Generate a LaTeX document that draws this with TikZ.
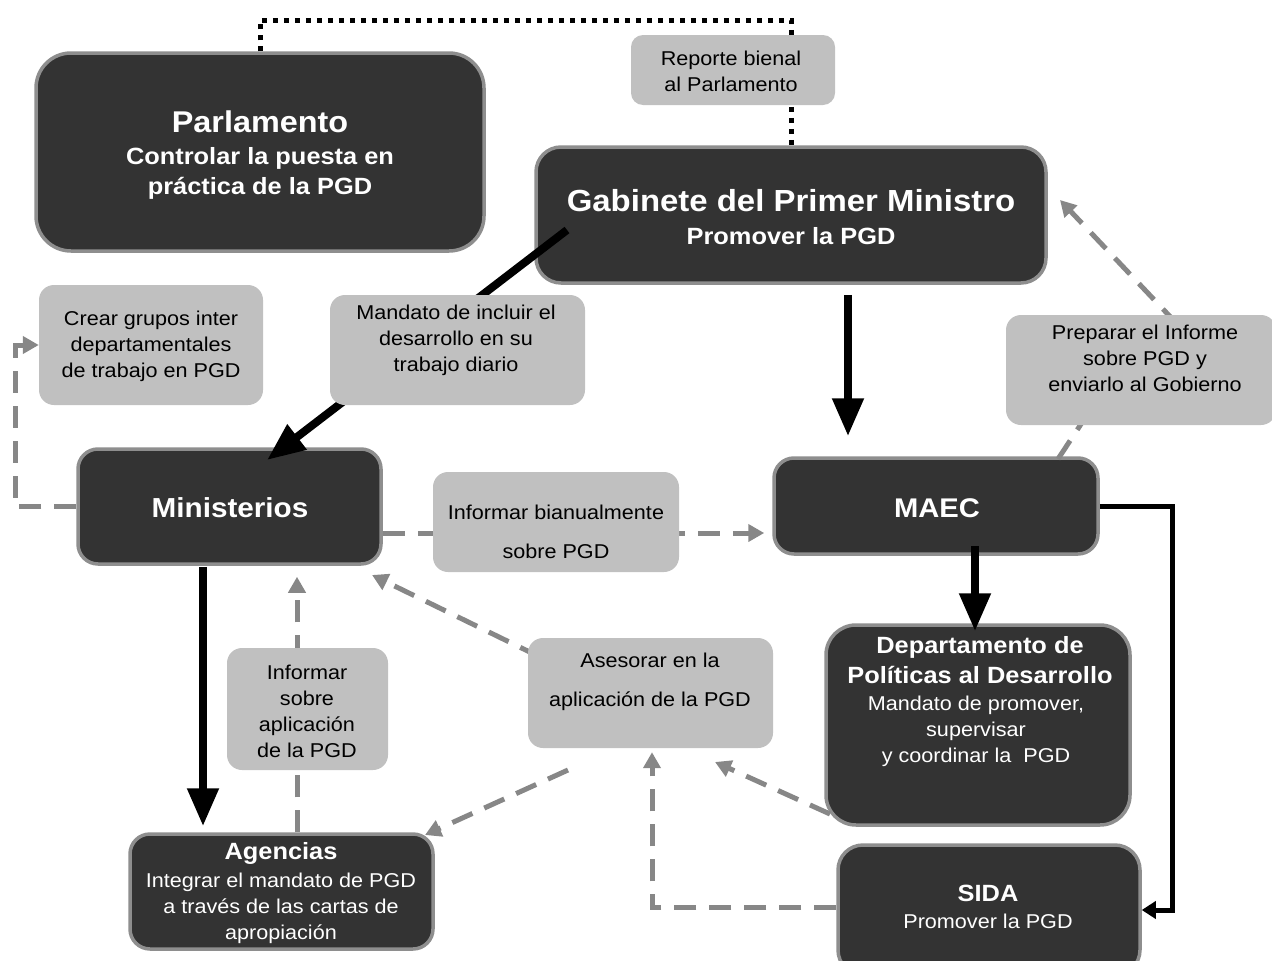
\documentclass[tikz,border=0pt]{standalone}
\usepackage{fontspec}
\setmainfont{Liberation Sans}[FakeStretch=1.08]
\usetikzlibrary{arrows.meta,calc}
\definecolor{dk}{HTML}{333333}
\definecolor{lt}{HTML}{C0C0C0}
\definecolor{bd}{HTML}{8E8E8E}
\definecolor{dg}{HTML}{878787}
\pgfdeclarelayer{boxes}
\pgfdeclarelayer{links}
\pgfsetlayers{boxes,links,main}
\begin{document}
\begin{tikzpicture}[x=1pt,y=-1pt,
  darkbox/.style={draw=bd, line width=3.5pt, fill=dk, inner sep=0pt},
  lightbox/.style={fill=lt, draw=none, inner sep=0pt, rounded corners=15pt},
  fat/.style={line width=8pt, -{Triangle[length=38pt,width=30pt]}},
  thinarrow/.style={line width=5pt, -{Triangle[length=14pt,width=17pt]}},
  dotline/.style={line width=5pt, dash pattern=on 5pt off 6pt},
  gdash/.style={draw=dg, line width=5pt, dash pattern=on 22pt off 13pt},
  garrow/.style={gdash, -{Triangle[length=16pt,width=17pt]}},
  txt/.style={align=center, inner sep=0pt, font=\fontsize{20}{26}\selectfont},
  wtxt/.style={txt, text=white},
  wtitle/.style={align=center, inner sep=0pt, text=white, font=\bfseries\fontsize{23.5}{30}\selectfont},
  wbig/.style={align=center, inner sep=0pt, text=white, font=\bfseries\fontsize{30}{36}\selectfont}
]
\useasboundingbox (0,0) rectangle (1272,961);
\clip (0,0) rectangle (1272,961);

% ---------- dark boxes ----------
\begin{pgfonlayer}{boxes}
\node[darkbox, minimum width=448pt, minimum height=198pt, rounded corners=35pt] (parl) at (260,152) {};
\node[darkbox, minimum width=510pt, minimum height=136pt, rounded corners=25pt] (gab) at (791,215) {};
\node[darkbox, minimum width=303pt, minimum height=115pt, rounded corners=20pt] (min) at (229.5,506.5) {};
\node[darkbox, minimum width=324pt, minimum height=96pt, rounded corners=20pt] (maec) at (936,506) {};
\node[darkbox, minimum width=304pt, minimum height=200pt, rounded corners=30pt] (dep) at (978,725) {};
\node[darkbox, minimum width=302pt, minimum height=130pt, rounded corners=25pt] (sida) at (989,910) {};
\node[darkbox, minimum width=303pt, minimum height=115pt, rounded corners=20pt] (ag) at (281.5,891.5) {};
\end{pgfonlayer}

% ---------- light boxes ----------
\node[lightbox, minimum width=204pt, minimum height=70pt, rounded corners=12pt] (rep) at (733,70) {};
\node[lightbox, minimum width=255pt, minimum height=110pt] (mand) at (457.5,350) {};
\node[lightbox, minimum width=224pt, minimum height=120pt] (crear) at (151,345) {};
\node[lightbox, minimum width=246pt, minimum height=100pt] (infb) at (556,522) {};
\node[lightbox, minimum width=270pt, minimum height=110pt] (prep) at (1141,370) {};
\node[lightbox, minimum width=161pt, minimum height=122pt] (infs) at (307.5,709) {};
\node[lightbox, minimum width=245pt, minimum height=110pt] (ases) at (650.5,693) {};

% ---------- helper coordinates ----------
\coordinate (top) at (0,20);
\coordinate (xa) at (848,0);
\coordinate (xb) at (975,0);
\coordinate (xc) at (203,0);
\coordinate (xd) at (1172,0);
\coordinate (xe) at (15,0);
\coordinate (yb) at (0,533);
\coordinate (xf) at (297,0);
\coordinate (xg) at (652,0);
\coordinate (ys) at (0,907);
\coordinate (g1) at (567,230);
\coordinate (m1) at (267,460);
\coordinate (a1) at (540,657);
\coordinate (a2) at (372,575);
\coordinate (a3) at (568,770);
\coordinate (a4) at (425,835);
\coordinate (d1) at (830,814);
\coordinate (d2) at (715,762);
\coordinate (p1) at (1058,459);
\coordinate (p2) at (1085,418);
\coordinate (p3) at (1178,325);
\coordinate (p4) at (1060,200);

% ---------- connectors ----------
\begin{pgfonlayer}{links}
\draw[dotline] (parl.north) -- (parl.north |- top) -- (gab.north |- top) -- (gab.north);
\draw[fat] (g1) -- (m1);
\draw[fat] ([yshift=-10pt]gab.south -| xa) -- ([yshift=20pt]maec.north -| xa);
\draw[fat] ([yshift=10pt]maec.south -| xb) -- ([yshift=-8pt]dep.north -| xb);
\draw[fat] ([yshift=-1pt]min.south -| xc) -- ([yshift=6pt]ag.north -| xc);
\draw[thinarrow] (maec.east) -- (maec.east -| xd) -- (sida.east -| xd) -- (sida.east);
\draw[garrow] (min.west) -- (min.west -| xe) -- (crear.west -| xe) -- (crear.west);
\draw[garrow] (min.east |- yb) -- ([xshift=-8pt]maec.west |- yb);
\draw[garrow] (ag.north -| xf) -- ([yshift=-11pt]min.south -| xf);
\draw[garrow] (a1) -- (a2);
\draw[garrow] (a3) -- (a4);
\draw[garrow] (d1) -- (d2);
\draw[garrow] (sida.west |- ys) -- (xg |- ys) -- ([yshift=-4pt]ases.south -| xg);
\draw[gdash] (p1) -- (p2);
\draw[garrow] (p3) -- (p4);
\end{pgfonlayer}

% ---------- texts ----------
\node[wbig] (tparl) at (260,122) {Parlamento};
\node[wtitle] (tparl2) at (260,173) {Controlar la puesta en\\práctica de la PGD};
\node[txt] (trep) at (731,71) {Reporte bienal\\al Parlamento};
\node[wbig, font=\bfseries\fontsize{30.5}{36}\selectfont] (tgab) at (791,201) {Gabinete del Primer Ministro};
\node[wtitle] (tgab2) at (791,236) {Promover la PGD};
\node[txt] (tmand) at (456,340) {Mandato de incluir el\\desarrollo en su\\trabajo diario};
\node[txt] (tcrear) at (151,346) {Crear grupos inter\\departamentales\\de trabajo en PGD};
\node[wtitle, font=\bfseries\fontsize{27.5}{33}\selectfont] (tmin) at (230,508) {Ministerios};
\node[txt, font=\fontsize{20}{39}\selectfont] (tinfb) at (556,532) {Informar bianualmente\\sobre PGD};
\node[wtitle, font=\bfseries\fontsize{27}{33}\selectfont] (tmaec) at (937,508) {MAEC};
\node[txt] (tprep) at (1145,358) {Preparar el Informe\\sobre PGD y\\enviarlo al Gobierno};
\node[txt] (tinfs) at (307,711) {Informar\\sobre\\aplicación\\de la PGD};
\node[txt, font=\fontsize{20}{39}\selectfont] (tases) at (650,682) {Asesorar en la\\aplicación de la PGD};
\node[wtitle] (tdep) at (980,660) {Departamento de\\Políticas al Desarrollo};
\node[wtxt] (tdep2) at (976,731) {Mandato de promover,\\supervisar\\y coordinar la\ \ PGD};
\node[wtitle] (tsida) at (988,893) {SIDA};
\node[wtxt] (tsida2) at (988,921) {Promover la PGD};
\node[wtitle] (tag) at (281,853) {Agencias};
\node[wtxt] (tag2) at (281,908) {Integrar el mandato de PGD\\a través de las cartas de\\apropiación};
\end{tikzpicture}
\end{document}
